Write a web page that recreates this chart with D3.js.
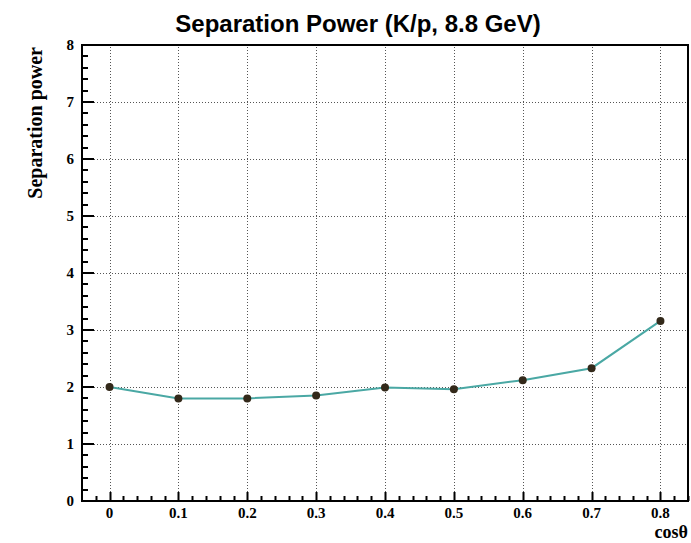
<!DOCTYPE html>
<html>
<head>
<meta charset="utf-8">
<style>
body{margin:0;background:#fff;}
</style>
</head>
<body>
<script src="https://cdnjs.cloudflare.com/ajax/libs/d3/7.8.5/d3.min.js"></script>
<script>
// data
var cosTheta=[0,0.1,0.2,0.3,0.4,0.5,0.6,0.7,0.8];
var sepPower=[2.0,1.8,1.8,1.85,1.99,1.96,2.12,2.33,3.16];
var xTicks=[0,0.1,0.2,0.3,0.4,0.5,0.6,0.7,0.8];
var yTicks=[0,1,2,3,4,5,6,7,8];

var width=691,height=543;
var margin={top:45,right:3,bottom:42,left:82};

var svg=d3.select("body").append("svg")
	.attr("width",width)
	.attr("height",height);

var x=d3.scaleLinear().domain([-0.04,0.84]).range([margin.left,width-margin.right]);
var y=d3.scaleLinear().domain([0,8]).range([height-margin.bottom,margin.top]);

// grid
svg.append("g").selectAll("line.gx")
	.data(xTicks)
	.enter().append("line")
	.attr("x1",function(d){return Math.round(x(d))+0.5;})
	.attr("x2",function(d){return Math.round(x(d))+0.5;})
	.attr("y1",y(0)).attr("y2",y(8))
	.attr("stroke","#555").attr("stroke-width",1).attr("stroke-dasharray","1,2");
svg.append("g").selectAll("line.gy")
	.data(yTicks.slice(1,-1))
	.enter().append("line")
	.attr("y1",function(d){return Math.round(y(d))+0.5;})
	.attr("y2",function(d){return Math.round(y(d))+0.5;})
	.attr("x1",x(-0.04)).attr("x2",x(0.84))
	.attr("stroke","#555").attr("stroke-width",1).attr("stroke-dasharray","1,2");

// minor + major ticks (ROOT style, inside the frame)
var xMinor=d3.range(-0.02,0.845,0.02);
svg.append("g").selectAll("line")
	.data(xMinor)
	.enter().append("line")
	.attr("x1",function(d){return Math.round(x(d))+0.5;})
	.attr("x2",function(d){return Math.round(x(d))+0.5;})
	.attr("y1",y(0))
	.attr("y2",function(d){
		var major=Math.abs(d*10-Math.round(d*10))<1e-6;
		return y(0)-(major?9:5);
	})
	.attr("stroke","#000").attr("stroke-width",2);
var yMinor=d3.range(0,8.01,0.2);
svg.append("g").selectAll("line")
	.data(yMinor)
	.enter().append("line")
	.attr("y1",function(d){return Math.round(y(d));})
	.attr("y2",function(d){return Math.round(y(d));})
	.attr("x1",x(-0.04))
	.attr("x2",function(d){
		var major=Math.abs(d-Math.round(d))<1e-6;
		return x(-0.04)+(major?12:6);
	})
	.attr("stroke","#000").attr("stroke-width",2);

// frame
svg.append("rect")
	.attr("x",x(-0.04)).attr("y",y(8))
	.attr("width",x(0.84)-x(-0.04)).attr("height",y(0)-y(8))
	.attr("fill","none").attr("stroke","#000").attr("stroke-width",2);

// tick labels
svg.append("g").selectAll("text")
	.data(xTicks)
	.enter().append("text")
	.attr("x",function(d){return x(d);})
	.attr("y",518)
	.attr("text-anchor","middle")
	.attr("font-family","Liberation Serif")
	.attr("font-weight","bold")
	.attr("font-size","15px")
	.text(function(d){return d3.format("")(d);});
svg.append("g").selectAll("text")
	.data(yTicks)
	.enter().append("text")
	.attr("x",74)
	.attr("y",function(d){return y(d)+5;})
	.attr("text-anchor","end")
	.attr("font-family","Liberation Serif")
	.attr("font-weight","bold")
	.attr("font-size","15px")
	.text(function(d){return d;});

// axis titles
svg.append("text")
	.attr("transform","translate(42,47) rotate(-90)")
	.attr("text-anchor","end")
	.attr("font-family","Liberation Serif")
	.attr("font-weight","bold")
	.attr("font-size","20px")
	.text("Separation power");
svg.append("text")
	.attr("x",688).attr("y",538)
	.attr("text-anchor","end")
	.attr("font-family","Liberation Serif")
	.attr("font-weight","bold")
	.attr("font-size","18px")
	.text("cos\u03b8");

// title
svg.append("text")
	.attr("x",358).attr("y",32)
	.attr("text-anchor","middle")
	.attr("font-family","Liberation Sans")
	.attr("font-weight","bold")
	.attr("font-size","24px")
	.text("Separation Power (K/p, 8.8 GeV)");

// line + markers
var pts=cosTheta.map(function(d,i){return [d,sepPower[i]];});
svg.append("path")
	.datum(pts)
	.attr("d",d3.line().x(function(d){return x(d[0]);}).y(function(d){return y(d[1]);}))
	.attr("fill","none").attr("stroke","#4aa8a4").attr("stroke-width",2);
svg.append("g").selectAll("circle")
	.data(pts)
	.enter().append("circle")
	.attr("cx",function(d){return x(d[0]);})
	.attr("cy",function(d){return y(d[1]);})
	.attr("r",4)
	.attr("fill","#33291a");
</script>
</body>
</html>
